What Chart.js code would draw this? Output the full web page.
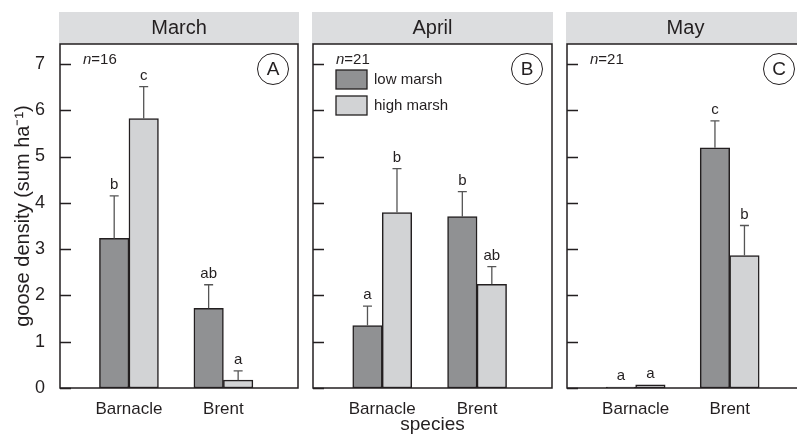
<!DOCTYPE html>
<html>
<head>
<meta charset="utf-8">
<script src="https://cdn.jsdelivr.net/npm/chart.js@4.4.0/dist/chart.umd.min.js"></script>
<style>
html, body { margin: 0; padding: 0; background: #fff; overflow: hidden; width: 797px; height: 436px; }
canvas { position: absolute; left: 0; top: 0; }
</style>
</head>
<body>
<canvas id="p0" width="797" height="436"></canvas>
<canvas id="p1" width="797" height="436"></canvas>
<canvas id="p2" width="820" height="436"></canvas>
<script>
// data
const CATEGORIES = ['Barnacle', 'Brent'];
const CATEGORY_POS = [1, 2];
const MONTHS = ['March', 'April', 'May'];
const PANEL_TAGS = ['A', 'B', 'C'];
const SAMPLE_N = [16, 21, 21];
const LOW_MARSH = [[3.23, 1.72], [1.35, 3.70], [0.02, 5.19]];
const HIGH_MARSH = [[5.82, 0.17], [3.79, 2.24], [0.07, 2.86]];
const LOW_SE = [[0.92, 0.51], [0.42, 0.54], [0, 0.58]];
const HIGH_SE = [[0.69, 0.20], [0.95, 0.38], [0, 0.65]];
const LOW_LETTERS = [['b', 'ab'], ['a', 'b'], ['a', 'c']];
const HIGH_LETTERS = [['c', 'a'], ['b', 'ab'], ['a', 'b']];
const Y_TICKS = [0, 1, 2, 3, 4, 5, 6, 7];

const fam = '"Liberation Sans", Arial, Helvetica, sans-serif';
const ink = '#231f20';
const LOW_COL = '#909193';
const HIGH_COL = '#d2d3d5';

// where each panel's plot box sits on the page
const PLOT_LEFT = [60, 313, 567];
const PLOT_RIGHT = [298, 552, 804];

const panelPlugin = {
    id: 'panel',
    afterDatasetsDraw(chart, args, opts) {
        const ctx = chart.ctx, y = chart.scales.y, p = opts.i;
        ctx.save();
        const sets = [[LOW_MARSH, LOW_SE, LOW_LETTERS], [HIGH_MARSH, HIGH_SE, HIGH_LETTERS]];
        sets.forEach((set, d) => {
            chart.getDatasetMeta(d).data.forEach((bar, j) => {
                const se = set[1][p][j];
                const py = y.getPixelForValue(set[0][p][j] + se);
                if (se > 0) {
                    ctx.strokeStyle = '#555';
                    ctx.lineWidth = 1.3;
                    ctx.beginPath();
                    ctx.moveTo(bar.x, bar.y);
                    ctx.lineTo(bar.x, py);
                    ctx.moveTo(bar.x - 4.5, py);
                    ctx.lineTo(bar.x + 4.5, py);
                    ctx.stroke();
                }
                ctx.fillStyle = ink;
                ctx.font = '15px ' + fam;
                ctx.textAlign = 'center';
                ctx.textBaseline = 'middle';
                ctx.fillText(set[2][p][j], bar.x, py - 11);
            });
        });
        ctx.restore();
    },
    afterDraw(chart, args, opts) {
        const ctx = chart.ctx, a = chart.chartArea, y = chart.scales.y, p = opts.i;
        ctx.save();
        // header strip
        ctx.fillStyle = '#dcdddf';
        ctx.fillRect(a.left - 1, 12, a.right - a.left + 2, a.top - 12);
        ctx.fillStyle = ink;
        ctx.font = '20px ' + fam;
        ctx.textAlign = 'center';
        ctx.textBaseline = 'middle';
        ctx.fillText(MONTHS[p], (a.left + a.right) / 2, 28);
        // frame
        ctx.strokeStyle = ink;
        ctx.lineWidth = 1.5;
        ctx.strokeRect(a.left, a.top, a.right - a.left, a.bottom - a.top);
        // inward ticks
        ctx.lineWidth = 1.3;
        ctx.beginPath();
        Y_TICKS.forEach(v => {
            const py = Math.round(y.getPixelForValue(v)) + 0.5;
            ctx.moveTo(a.left, py);
            ctx.lineTo(a.left + 11, py);
        });
        ctx.stroke();
        // n label
        ctx.textAlign = 'left';
        ctx.font = 'italic 15px ' + fam;
        ctx.fillText('n', a.left + 23, 60);
        const w = ctx.measureText('n').width;
        ctx.font = '15px ' + fam;
        ctx.fillText('=' + SAMPLE_N[p], a.left + 23 + w, 60);
        // panel tag
        ctx.beginPath();
        ctx.lineWidth = 1;
        ctx.arc(a.right - 25, 69, 15.5, 0, Math.PI * 2);
        ctx.stroke();
        ctx.font = '19px ' + fam;
        ctx.textAlign = 'center';
        ctx.fillText(PANEL_TAGS[p], a.right - 25, 70);
        // legend in the April panel
        if (p === 1) {
            chart.data.datasets.forEach((ds, d) => {
                const by = 70 + d * 26;
                ctx.fillStyle = ds.backgroundColor;
                ctx.fillRect(a.left + 23, by, 31, 19);
                ctx.strokeStyle = ink;
                ctx.lineWidth = 1.3;
                ctx.strokeRect(a.left + 23, by, 31, 19);
                ctx.fillStyle = ink;
                ctx.font = '15px ' + fam;
                ctx.textAlign = 'left';
                ctx.fillText(ds.label, a.left + 61, by + 10);
            });
        }
        ctx.restore();
    }
};

function makePanel(p) {
    const canvas = document.getElementById('p' + p);
    const first = p === 0;
    return new Chart(canvas.getContext('2d'), {
        type: 'bar',
        data: {
            datasets: [
                {
                    label: 'low marsh',
                    data: CATEGORY_POS.map((x, j) => ({ x: x, y: LOW_MARSH[p][j] })),
                    backgroundColor: LOW_COL,
                    borderColor: ink,
                    borderWidth: 1.5,
                    borderSkipped: false
                },
                {
                    label: 'high marsh',
                    data: CATEGORY_POS.map((x, j) => ({ x: x, y: HIGH_MARSH[p][j] })),
                    backgroundColor: HIGH_COL,
                    borderColor: ink,
                    borderWidth: 1.5,
                    borderSkipped: false
                }
            ]
        },
        options: {
            responsive: false,
            animation: false,
            barThickness: 29.5,
            layout: { padding: { left: first ? 0 : PLOT_LEFT[p], right: canvas.width - PLOT_RIGHT[p], top: 44, bottom: 0 } },
            plugins: {
                legend: { display: false },
                tooltip: { enabled: false },
                panel: { i: p }
            },
            scales: {
                x: {
                    type: 'linear',
                    min: 0.27,
                    max: 2.79,
                    offset: false,
                    grid: { display: false, offset: false },
                    border: { display: false },
                    afterBuildTicks: s => { s.ticks = CATEGORY_POS.map(v => ({ value: v })); },
                    afterFit: s => { s.height = 48; },
                    ticks: {
                        autoSkip: false,
                        maxRotation: 0,
                        padding: 3,
                        color: ink,
                        font: { family: fam, size: 17 },
                        callback: (v, i) => CATEGORIES[i]
                    },
                    title: {
                        display: p === 1,
                        text: 'species',
                        color: ink,
                        font: { family: fam, size: 19, lineHeight: 1 },
                        padding: { top: 0, bottom: 1.5 }
                    }
                },
                y: {
                    min: 0,
                    max: 7.43,
                    grid: { display: false },
                    border: { display: false },
                    afterBuildTicks: s => { s.ticks = Y_TICKS.map(v => ({ value: v })); },
                    afterFit: s => { s.width = first ? 60 : 0; },
                    ticks: {
                        display: first,
                        padding: 7,
                        color: ink,
                        font: { family: fam, size: 18 }
                    },
                    title: {
                        display: first,
                        text: 'goose density (sum ha⁻¹)',
                        color: ink,
                        font: { family: fam, size: 20, lineHeight: 1.2 },
                        padding: { top: 11, bottom: 0 }
                    }
                }
            }
        },
        plugins: [panelPlugin]
    });
}

MONTHS.forEach((m, p) => makePanel(p));
</script>
</body>
</html>
